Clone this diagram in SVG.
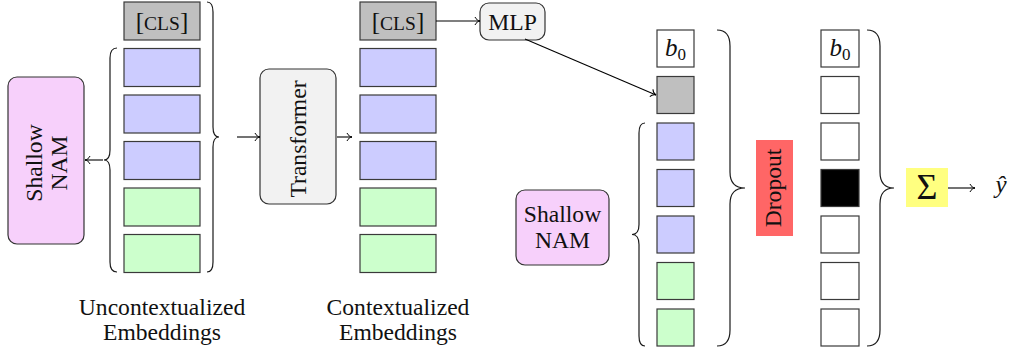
<svg xmlns="http://www.w3.org/2000/svg" width="1010" height="351" viewBox="0 0 1010 351">
  <style>
    text { font-family: "Liberation Serif", "Times New Roman", serif; font-size: 23.6px; fill: #111; }
    .cell { stroke: #3a3a3a; stroke-width: 1.2; }
    .cls { fill: #bfbfbf; }
    .num { fill: #ccccff; }
    .cat { fill: #ccffcc; }
    .blank { fill: #ffffff; }
    .drop { fill: #000000; }
    .box { stroke: #333; stroke-width: 1.2; }
    .nam { fill: #f7d0fb; }
    .light { fill: #f2f2f2; }
    .brace { fill: none; stroke: #1a1a1a; stroke-width: 1.2; }
    .edge { fill: none; stroke: #000; stroke-width: 1.1; }
    .mid { text-anchor: middle; }
    text.tok { font-size: 25px; }
    .sc { font-size: 19.5px; }
    text.math { font-size: 25px; }
    .it { font-style: italic; }
    .sub { font-size: 17px; }
    text.sigma { font-size: 36px; }
  </style>
  <defs>
    <marker id="to" viewBox="-6 -5 7 10" markerWidth="7" markerHeight="10" refX="0" refY="0" orient="auto" markerUnits="userSpaceOnUse">
      <path d="M-5,-4 C-4,-1.5 -1.5,-0.3 0,0 C-1.5,0.3 -4,1.5 -5,4" fill="none" stroke="#000" stroke-width="1"/>
    </marker>
  </defs>

  <!-- uncontextualized embeddings column -->
  <g id="uncontextualized">
    <rect class="cell cls" x="124" y="2" width="76" height="38"/>
    <text class="mid tok" x="162" y="30">[<tspan class="sc">CLS</tspan>]</text>
    <rect class="cell num" x="124" y="48.5" width="76" height="38"/>
    <rect class="cell num" x="124" y="95" width="76" height="38"/>
    <rect class="cell num" x="124" y="141.5" width="76" height="38"/>
    <rect class="cell cat" x="124" y="188" width="76" height="38"/>
    <rect class="cell cat" x="124" y="234.5" width="76" height="38"/>
    <text class="mid" x="162" y="315">Uncontextualized</text>
    <text class="mid" x="162" y="340">Embeddings</text>
  </g>

  <!-- shallow NAM on the feature tokens -->
  <g id="nam-left">
    <rect class="box nam" x="8" y="77" width="76" height="167" rx="9"/>
    <text class="mid" transform="translate(42,163) rotate(-90)"><tspan x="0" y="0">Shallow</tspan><tspan x="0" y="25">NAM</tspan></text>
  </g>

  <!-- transformer -->
  <g id="transformer">
    <rect class="box light" x="260" y="69" width="76" height="135" rx="9"/>
    <text class="mid" transform="translate(305.5,139) rotate(-90)">Transformer</text>
  </g>

  <!-- contextualized embeddings column -->
  <g id="contextualized">
    <rect class="cell cls" x="360" y="2" width="76" height="38"/>
    <text class="mid tok" x="398" y="30">[<tspan class="sc">CLS</tspan>]</text>
    <rect class="cell num" x="360" y="48.5" width="76" height="38"/>
    <rect class="cell num" x="360" y="95" width="76" height="38"/>
    <rect class="cell num" x="360" y="141.5" width="76" height="38"/>
    <rect class="cell cat" x="360" y="188" width="76" height="38"/>
    <rect class="cell cat" x="360" y="234.5" width="76" height="38"/>
    <text class="mid" x="398" y="315">Contextualized</text>
    <text class="mid" x="398" y="340">Embeddings</text>
  </g>

  <!-- MLP head on the CLS token -->
  <g id="mlp">
    <rect class="box light" x="480" y="3" width="65" height="37" rx="9"/>
    <text class="mid" x="512.5" y="30">MLP</text>
  </g>

  <!-- per-feature outputs -->
  <g id="outputs">
    <rect class="cell blank" x="657" y="30" width="37" height="37"/>
    <text class="math" x="665" y="56"><tspan class="it">b</tspan><tspan class="sub" dy="4">0</tspan></text>
    <rect class="cell cls" x="657" y="76.5" width="37" height="37"/>
    <rect class="cell num" x="657" y="123" width="37" height="37"/>
    <rect class="cell num" x="657" y="169.5" width="37" height="37"/>
    <rect class="cell num" x="657" y="216" width="37" height="37"/>
    <rect class="cell cat" x="657" y="262.5" width="37" height="37"/>
    <rect class="cell cat" x="657" y="309" width="37" height="37"/>
  </g>

  <g id="nam-right">
    <rect class="box nam" x="516" y="190" width="93" height="75" rx="9"/>
    <text class="mid" x="562.5" y="222">Shallow</text>
    <text class="mid" x="562.5" y="248">NAM</text>
  </g>

  <g id="dropout">
    <rect x="756" y="140" width="37" height="96" fill="#ff6666"/>
    <text class="mid" transform="translate(781,188) rotate(-90)">Dropout</text>
  </g>

  <!-- outputs after dropout -->
  <g id="dropped">
    <rect class="cell blank" x="821" y="30" width="38" height="37"/>
    <text class="math" x="829.5" y="56"><tspan class="it">b</tspan><tspan class="sub" dy="4">0</tspan></text>
    <rect class="cell blank" x="821" y="76.5" width="38" height="37"/>
    <rect class="cell blank" x="821" y="123" width="38" height="37"/>
    <rect class="cell drop" x="821" y="169.5" width="38" height="37"/>
    <rect class="cell blank" x="821" y="216" width="38" height="37"/>
    <rect class="cell blank" x="821" y="262.5" width="38" height="37"/>
    <rect class="cell blank" x="821" y="309" width="38" height="37"/>
  </g>

  <g id="sum">
    <rect x="906" y="168" width="42" height="39" fill="#ffff80"/>
    <text class="mid sigma" x="927" y="199">Σ</text>
  </g>

  <g id="prediction">
    <text class="mid math it" x="1001" y="193">ŷ</text>
  </g>

  <!-- braces -->
  <g id="braces">
    <path class="brace" d="M207,2 Q213,2 213,12 L213,127 Q213,137 219,137 Q213,137 213,147 L213,262 Q213,272 207,272"/>
    <path class="brace" d="M117,48 Q110,48 110,58 L110,150 Q110,160 104,160 Q110,160 110,170 L110,262 Q110,272 117,272"/>
    <path class="brace" d="M645,123 Q639,123 639,133 L639,224.5 Q639,234.5 632,234.5 Q639,234.5 639,244.5 L639,336 Q639,346 645,346"/>
    <path class="brace" d="M717,30 Q730,30 730,46 L730,172 Q730,188 745,188 Q730,188 730,204 L730,330 Q730,346 717,346"/>
    <path class="brace" d="M867,30 Q880,30 880,46 L880,172 Q880,188 894,188 Q880,188 880,204 L880,330 Q880,346 867,346"/>
  </g>

  <!-- connectors -->
  <g id="connectors">
    <path class="edge" d="M103,160 L85,160" marker-end="url(#to)"/>
    <path class="edge" d="M237,137 L260,137" marker-end="url(#to)"/>
    <path class="edge" d="M337,137 L352,137" marker-end="url(#to)"/>
    <path class="edge" d="M436,21 L480,21" marker-end="url(#to)"/>
    <path class="edge" d="M525,39 L656,95" marker-end="url(#to)"/>
    <path class="edge" d="M948,188 L975,188" marker-end="url(#to)"/>
  </g>
</svg>
